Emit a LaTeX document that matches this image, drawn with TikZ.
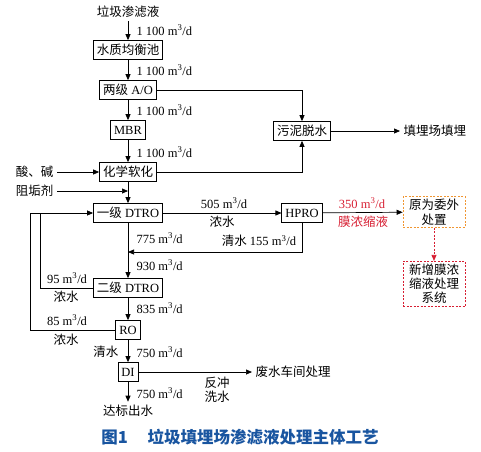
\documentclass[tikz,border=0pt]{standalone}
\usepackage{fontspec}
\setmainfont{Liberation Serif}
\newfontfamily\cjk{Noto Sans CJK SC}
\usetikzlibrary{positioning,arrows.meta}
\definecolor{capblue}{RGB}{25,85,160}
\definecolor{concred}{RGB}{215,30,50}
\definecolor{oldorange}{RGB}{240,150,50}
\newcommand{\zh}[1]{{\cjk #1}}
\newcommand{\rate}[1]{#1 m\textsuperscript{3}/d}

\begin{document}
\begin{tikzpicture}[
    x=1pt, y=-1pt,
    font=\fontsize{12.5}{14}\selectfont,
    % Cajas del proceso y cajas punteadas
    procbox/.style={draw, line width=0.7pt, inner xsep=3.5pt, inner ysep=1pt, minimum height=19pt},
    dashbox/.style={draw, line width=0.7pt, dash pattern=on 2pt off 1.5pt, align=center, font=\cjk\fontsize{12.5}{15}\selectfont, minimum width=62pt, inner sep=2pt},
    % Flechas y textos
    flow/.style={line width=0.7pt, -{Triangle[length=6pt,width=5pt]}},
    pipe/.style={line width=0.7pt},
    ratelbl/.style={anchor=west},
    zhlbl/.style={font=\cjk\fontsize{12.5}{14}\selectfont, align=center}
]
\useasboundingbox (0,0) rectangle (481,451);

% --- COLUMNA PRINCIPAL ---
\node[zhlbl] (src) at (128,12) {垃圾渗滤液};
\node[procbox] (eq) at (128,50) {\zh{水质均衡池}};
\node[procbox] (ao) at (128,90) {\zh{两级} A/O};
\node[procbox] (mbr) at (128,130) {MBR};
\node[procbox] (soft) at (128,172) {\zh{化学软化}};
\node[procbox] (dt1) at (128,213) {\zh{一级} DTRO};
\node[procbox] (dt2) at (128,288) {\zh{二级} DTRO};
\node[procbox] (ro) at (128,330) {RO};
\node[procbox] (di) at (128,372) {DI};
\node[zhlbl] (out) at (128,411) {达标出水};

% --- LODOS ---
\node[procbox] (sludge) at (302,131) {\zh{污泥脱水}};
\node[zhlbl, anchor=west] (land) at (400,131) {填埋场填埋};

% --- REACTIVOS ---
\node[zhlbl, anchor=east] (acid) at (57,172) {酸、碱};
\node[zhlbl, anchor=east] (anti) at (57,191) {阻垢剂};
\coordinate (dose) at (128,191);

% --- HPRO Y CONCENTRADO ---
\node[procbox] (hpro) at (302,213) {HPRO};
\node[dashbox, draw=oldorange] (old) at (434,212) {原为委外\\处置};
\node[dashbox, draw=concred, inner ysep=3pt, font=\cjk\fontsize{12.5}{14}\selectfont] (new) at (434,284) {新增膜浓\\缩液处理\\系统};
\coordinate (merge) at (128,252);
\coordinate (loopro) at (30,213);
\coordinate (loopdt) at (40,213);

% --- SALIDA DI ---
\node[zhlbl, anchor=west] (waste) at (252,372) {废水车间处理};

% --- CONEXIONES ---
\draw[flow] (src) -- (eq);
\draw[flow] (eq) -- (ao);
\draw[flow] (ao) -- (mbr);
\draw[flow] (mbr) -- (soft);
\draw[flow] (soft) -- (dt1);
\draw[flow] (dt1) -- (dt2);
\draw[flow] (dt2) -- (ro);
\draw[flow] (ro) -- (di);
\draw[flow] (di) -- (out.north);
\draw[flow] (ao.east) -| (sludge.north);
\draw[flow] (soft.east) -| (sludge.south);
\draw[flow] (sludge) -- (land);
\draw[flow] (acid) -- (soft);
\draw[flow] (anti) -- (dose);
\draw[flow] (dt1) -- (hpro);
\draw[flow] (hpro) -- (old);
\draw[flow, concred, dash pattern=on 2pt off 1.5pt] (old) -- (new);
\draw[flow] (hpro.south) |- (merge);
\draw[flow] (ro.west) -| (loopro) -- (dt1.west);
\draw[pipe] (dt2.west) -| (loopdt);
\draw[flow] (di) -- (waste);

% --- CAUDALES ---
\node[ratelbl] (q1) at (133,30) {\rate{1 100}};
\node[ratelbl] (q2) at (133,70) {\rate{1 100}};
\node[ratelbl] (q3) at (133,110) {\rate{1 100}};
\node[ratelbl] (q4) at (133,152) {\rate{1 100}};
\node[ratelbl] (q5) at (133,238) {\rate{775}};
\node[ratelbl] (q6) at (133,265) {\rate{930}};
\node[ratelbl] (q7) at (133,308) {\rate{835}};
\node[ratelbl] (q8) at (133,352) {\rate{750}};
\node[ratelbl] (q9) at (133,393) {\rate{750}};
\node (q10) at (224,203) {\rate{505}};
\node[zhlbl] (c1) at (222,222) {浓水};
\node (q11) at (259,241) {\zh{清水} \rate{155}};
\node (q12) at (67,278) {\rate{95}};
\node[zhlbl] (c2) at (66,297) {浓水};
\node (q13) at (67,320) {\rate{85}};
\node[zhlbl] (c3) at (66,340) {浓水};
\node[zhlbl, anchor=east] (w1) at (122,352) {清水};
\node[text=concred] (q14) at (362,203) {\rate{350}};
\node[zhlbl, text=concred] (c4) at (363,222) {膜浓缩液};
\node[zhlbl] (bw) at (217,390) {反冲\\洗水};

% --- PIE DE FIGURA ---
\node[text=capblue, font=\cjk\bfseries\fontsize{16.5}{18}\selectfont] (cap) at (240,437) {图1\hspace{1.2em}垃圾填埋场渗滤液处理主体工艺};

\end{tikzpicture}
\end{document}
